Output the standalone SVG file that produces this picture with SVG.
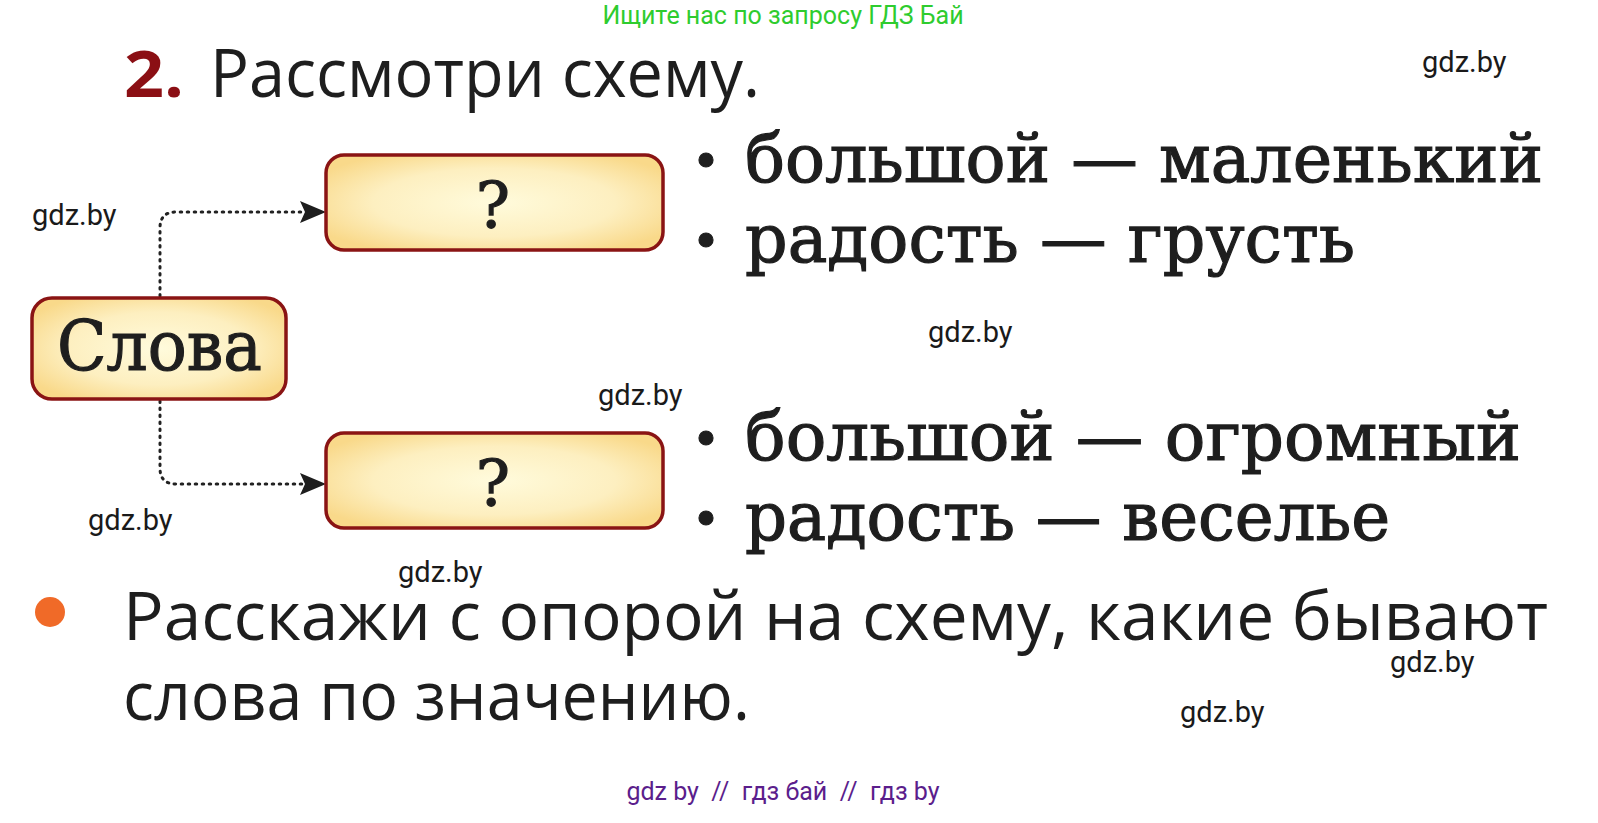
<svg xmlns="http://www.w3.org/2000/svg" width="1598" height="823" viewBox="0 0 1598 823">
<style>
.wm{font-family:Roboto,"Liberation Sans",sans-serif;font-size:29px;fill:#1a1a1a}
.ser{font-family:"DejaVu Serif","Liberation Serif",serif;fill:#1e1e1e;stroke:#1e1e1e;stroke-width:1.2}
.sans{font-family:"Open Sans","Liberation Sans",sans-serif;fill:#1e1e1e}
.box{stroke:#8a1414;stroke-width:3.5;fill:url(#g)}
.con{fill:none;stroke:#222;stroke-width:3;stroke-dasharray:1.5 5.5;stroke-linecap:round}
</style>
<defs>
<radialGradient id="g" cx="0.5" cy="0.5" r="0.6">
<stop offset="0" stop-color="#fffbdc"/>
<stop offset="0.6" stop-color="#fdefc0"/>
<stop offset="1" stop-color="#f9d98a"/>
</radialGradient>
</defs>
<rect width="1598" height="823" fill="#ffffff"/>
<text x="783" y="24" text-anchor="middle" font-family="Roboto,'Liberation Sans',sans-serif" font-size="25" fill="#2ecc2e">Ищите нас по запросу ГДЗ Бай</text>
<text x="124" y="97" font-family="'Open Sans','Liberation Sans',sans-serif" font-weight="bold" font-size="65" fill="#8b0f14" textLength="60" lengthAdjust="spacingAndGlyphs">2.</text>
<text x="210" y="97" class="sans" font-size="68" textLength="550" lengthAdjust="spacingAndGlyphs">Рассмотри схему.</text>
<g id="connectors">
<path class="con" d="M160,296 V228 Q160,212 176,212 H302"/>
<path class="con" d="M160,401 V468 Q160,484 176,484 H302"/>
<path d="M300,201 L326,212 L300,223 L305,212 z" fill="#1e1e1e"/>
<path d="M300,473 L326,484 L300,495 L305,484 z" fill="#1e1e1e"/>
</g>
<g id="node-words">
<rect class="box" x="32" y="298" width="254" height="101" rx="20"/>
<text x="57" y="370" class="ser" font-size="70" textLength="205" lengthAdjust="spacingAndGlyphs">Слова</text>
</g>
<g id="node-top">
<rect class="box" x="326" y="155" width="337" height="95" rx="18"/>
<text x="493" y="228" text-anchor="middle" class="ser" font-size="64">?</text>
</g>
<g id="node-bottom">
<rect class="box" x="326" y="433" width="337" height="95" rx="18"/>
<text x="493" y="506" text-anchor="middle" class="ser" font-size="64">?</text>
</g>
<g id="examples" class="ser" font-size="68">
<circle cx="706" cy="160" r="7" fill="#1e1e1e"/>
<text x="745" y="182" textLength="798" lengthAdjust="spacingAndGlyphs">большой — маленький</text>
<circle cx="706" cy="240" r="7" fill="#1e1e1e"/>
<text x="745" y="262" textLength="610" lengthAdjust="spacingAndGlyphs">радость — грусть</text>
<circle cx="706" cy="438" r="7" fill="#1e1e1e"/>
<text x="745" y="460" textLength="776" lengthAdjust="spacingAndGlyphs">большой — огромный</text>
<circle cx="706" cy="518" r="7" fill="#1e1e1e"/>
<text x="745" y="540" textLength="645" lengthAdjust="spacingAndGlyphs">радость — веселье</text>
</g>
<ellipse cx="50" cy="612" rx="15" ry="15" fill="#f06a28"/>
<text x="123" y="640" class="sans" font-size="67" textLength="1425" lengthAdjust="spacingAndGlyphs">Расскажи с опорой на схему, какие бывают</text>
<text x="123" y="720" class="sans" font-size="67" textLength="627" lengthAdjust="spacingAndGlyphs">слова по значению.</text>
<g id="watermarks">
<text class="wm" x="1422" y="72">gdz.by</text>
<text class="wm" x="32" y="225">gdz.by</text>
<text class="wm" x="928" y="342">gdz.by</text>
<text class="wm" x="598" y="405">gdz.by</text>
<text class="wm" x="88" y="530">gdz.by</text>
<text class="wm" x="398" y="582">gdz.by</text>
<text class="wm" x="1390" y="672">gdz.by</text>
<text class="wm" x="1180" y="722">gdz.by</text>
</g>
<text x="783" y="800" text-anchor="middle" font-family="Roboto,'Liberation Sans',sans-serif" font-size="25" fill="#5b1e8c" xml:space="preserve">gdz by  //  гдз бай  //  гдз by</text>
</svg>
